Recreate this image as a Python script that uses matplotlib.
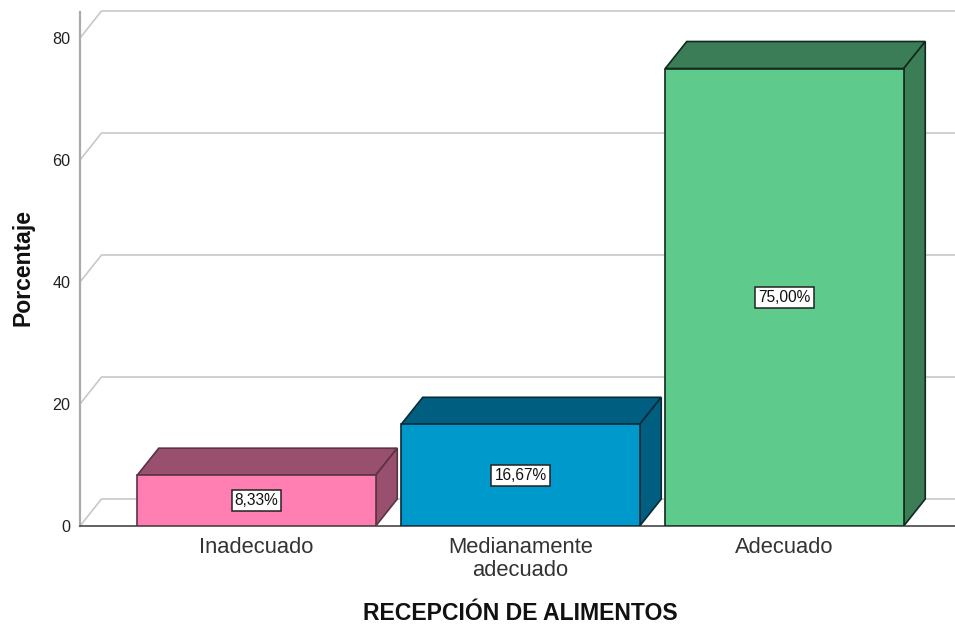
import matplotlib
matplotlib.use('Agg')
import matplotlib.pyplot as plt
from matplotlib.patches import Polygon

plt.rcParams['font.family'] = ['Liberation Sans', 'DejaVu Sans']

categories = ['Inadecuado', 'Medianamente\nadecuado', 'Adecuado']
values = [8.33, 16.67, 75.0]
labels = ['8,33%', '16,67%', '75,00%']
front_colors = ['#ff7fb2', '#0099cc', '#5eca8b']
top_colors = ['#99506e', '#005f80', '#3a7d56']
edge_colors = ['#5a3345', '#0a2a38', '#12291c']
yticks = [0, 20, 40, 60, 80]

W, H = 955, 626
left, right, top, bottom = 80, 955, 12, 526
px_x = 264.0
px_y = 6.1
bar_w = 238.5 / px_x
dx = 21.5 / px_x
dy = 27 / px_y
first_center = 256.5

fig = plt.figure(figsize=(W / 100, H / 100), dpi=100)
ax = fig.add_axes([left / W, 1 - bottom / H, (right - left) / W, (bottom - top) / H])
xmin = (left - first_center) / px_x
xmax = (right - first_center) / px_x
ax.set_xlim(xmin, xmax)
ax.set_ylim(0, (bottom - top) / px_y)

# back wall lines
for t in yticks:
    ax.plot([xmin, xmin + dx, xmax], [t, t + dy, t + dy], color='#c8c8c8', lw=1.2, zorder=1, clip_on=False)

x = list(range(len(values)))
ax.bar(x, values, width=bar_w, color=front_colors, edgecolor=edge_colors, linewidth=1.2, zorder=3)

# fake 3d sides
for i, v in enumerate(values):
    x0 = i - bar_w / 2
    x1 = i + bar_w / 2
    ax.add_patch(Polygon([(x0, v), (x0 + dx, v + dy), (x1 + dx, v + dy), (x1, v)],
                         facecolor=top_colors[i], edgecolor=edge_colors[i], lw=1.2, zorder=2.5))
    ax.add_patch(Polygon([(x1, 0), (x1 + dx, dy), (x1 + dx, v + dy), (x1, v)],
                         facecolor=top_colors[i], edgecolor=edge_colors[i], lw=1.2, zorder=2.5))
    ax.text(i, v / 2, labels[i], ha='center', va='center', fontsize=11.2, color='#111111', zorder=5,
            bbox=dict(boxstyle='square,pad=0.2', facecolor='white', edgecolor='#222222', lw=1.1))

for s in ['top', 'right']:
    ax.spines[s].set_visible(False)
ax.spines['left'].set_color('#ababab')
ax.spines['left'].set_linewidth(1.6)
ax.spines['bottom'].set_color('#555555')
ax.spines['bottom'].set_linewidth(1.3)

ax.set_yticks(yticks)
ax.set_xticks(x)
ax.set_xticklabels(categories, fontsize=15.8, color='#333333', linespacing=1.12)
ax.tick_params(axis='both', length=0)
ax.tick_params(axis='x', pad=8)
ax.tick_params(axis='y', labelsize=11.6, labelcolor='#222222', pad=7)

fig.text(520 / W, 1 - 613 / H, 'RECEPCIÓN DE ALIMENTOS', ha='center', va='center', fontsize=16.6, fontweight='bold', color='#111111')
fig.text(23 / W, 1 - 268 / H, 'Porcentaje', ha='center', va='center', rotation=90, fontsize=16.6, fontweight='bold', color='#111111')

fig.savefig('out.png', dpi=100)
plt.close(fig)
